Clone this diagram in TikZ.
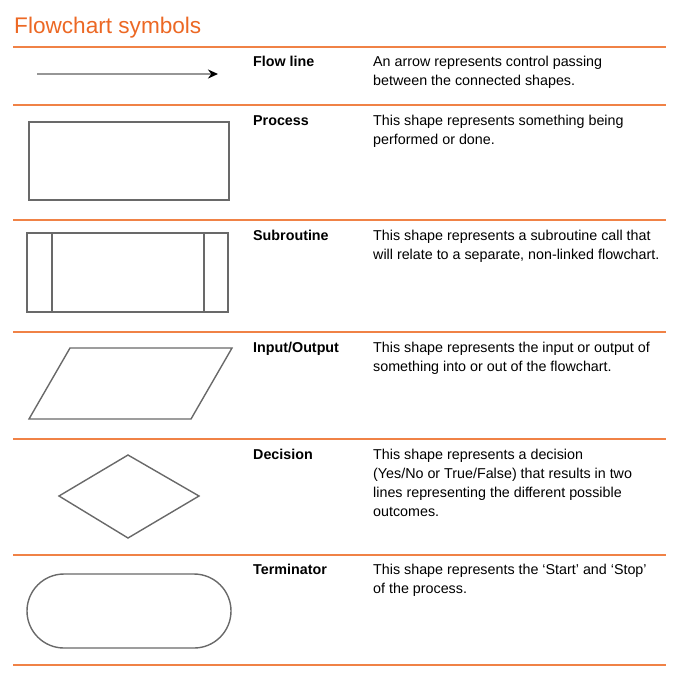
\documentclass[tikz,border=0pt]{standalone}
\usepackage{fontspec}
\setmainfont{Liberation Sans}
\usetikzlibrary{arrows.meta}
\definecolor{rulecolor}{RGB}{240,130,70}
\definecolor{titleorange}{RGB}{236,104,36}
\definecolor{shapegray}{RGB}{105,105,105}
\definecolor{flowgray}{RGB}{150,150,150}

\begin{document}
\begin{tikzpicture}[x=1pt, y=-1pt,
    rowrule/.style={rulecolor, line width=1.3pt},
    symbol/.style={shapegray, line width=1.4pt},
    symname/.style={anchor=base west, inner sep=0pt, font=\fontsize{14.3}{19}\selectfont\bfseries},
    descr/.style={anchor=north west, yshift=10.4pt, inner sep=0pt, align=left,
        font=\fontsize{14.3}{19}\selectfont}]
    \useasboundingbox (0,0) rectangle (687,686);

    % title and row rules
    \node[titleorange, anchor=base west, inner sep=0pt, font=\fontsize{22.6}{27}\selectfont] (title) at (14,33) {Flowchart symbols};
    \foreach \y in {47,105,220,332,439,555,665}
        \draw[rowrule] (13,\y) -- (666,\y);

    % flow line
    \coordinate (flowstart) at (37,74);
    \coordinate (flowend) at (218,74);
    \draw[flowgray, line width=2pt, -{Stealth[black, length=10pt, width=9pt]}] (flowstart) -- (flowend);
    \node[symname] (flowname) at (253,66) {Flow line};
    \node[descr] (flowtext) at (373,66) {An arrow represents control passing\\between the connected shapes.};

    % process
    \draw[symbol] (29,122) rectangle (229,200);
    \node[symname] (procname) at (253,125) {Process};
    \node[descr] (proctext) at (373,125) {This shape represents something being\\performed or done.};

    % subroutine
    \draw[symbol] (27,233) rectangle (228,312);
    \draw[symbol] (52,233) -- (52,312);
    \draw[symbol] (204,233) -- (204,312);
    \node[symname] (subname) at (253,240) {Subroutine};
    \node[descr] (subtext) at (373,240) {This shape represents a subroutine call that\\will relate to a separate, non-linked flowchart.};

    % input/output
    \draw[symbol] (70,348) -- (232,348) -- (191,419) -- (29,419) -- cycle;
    \node[symname] (ioname) at (253,352) {Input/Output};
    \node[descr] (iotext) at (373,352) {This shape represents the input or output of\\something into or out of the flowchart.};

    % decision
    \draw[symbol] (128,455) -- (199,496) -- (128,538) -- (59,496) -- cycle;
    \node[symname] (decname) at (253,459) {Decision};
    \node[descr] (dectext) at (373,459) {This shape represents a decision\\(Yes/No or True/False) that results in two\\lines representing the different possible\\outcomes.};

    % terminator
    \draw[symbol, rounded corners=37pt] (27,574) rectangle (231,648);
    \node[symname] (termname) at (253,574) {Terminator};
    \node[descr] (termtext) at (373,574) {This shape represents the `Start' and `Stop'\\of the process.};
\end{tikzpicture}
\end{document}
